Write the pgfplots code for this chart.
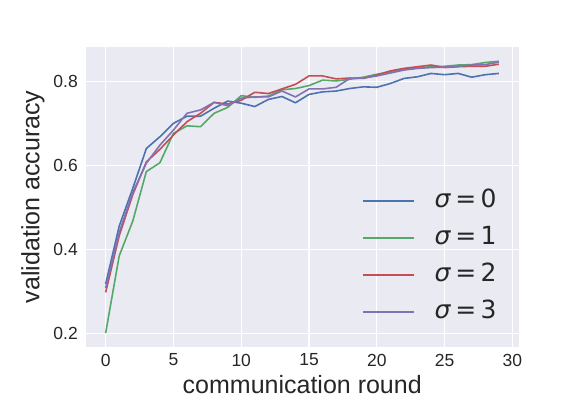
\documentclass[border=0pt]{standalone}
\usepackage{pgfplots}
\pgfplotsset{compat=1.18}
\usepackage{fontspec}
\setmainfont{Liberation Sans}
\newfontfamily\dejavu{DejaVu Sans}

\definecolor{sbblue}{HTML}{4C72B0}
\definecolor{sbgreen}{HTML}{55A868}
\definecolor{sbred}{HTML}{C44E52}
\definecolor{sbpurple}{HTML}{8172B2}
\definecolor{sbbg}{HTML}{EAEAF2}

\newcommand{\sig}[1]{{\color{black!85}\dejavu\fontsize{25bp}{30bp}\selectfont\textit{σ}\hspace{0.17em}=\hspace{0.17em}#1}}

\begin{document}
\begin{tikzpicture}
\begin{axis}[
name=ax,
scale only axis,
width=432.5bp, height=299.7bp,
xmin=-1.45, xmax=30.45,
ymin=0.1675, ymax=0.882,
xtick={0,5,...,30},
ytick={0.2,0.4,0.6,0.8},
yticklabel style={/pgf/number format/fixed, /pgf/number format/precision=1, /pgf/number format/fixed zerofill},
/pgf/number format/assume math mode=true,
axis background/.style={fill=sbbg},
axis line style={draw=none},
major tick length=0pt,
grid=major,
major grid style={white, line width=1.1bp},
tick label style={font=\fontsize{17.5bp}{21bp}\selectfont, text=black!85},
xticklabel style={inner sep=0pt, anchor=north, yshift=-7bp},
yticklabel style={inner sep=0pt, anchor=east, xshift=-8bp},
xlabel={communication round},
ylabel={validation accuracy},
label style={font=\fontsize{25bp}{30bp}\selectfont, text=black!85},
xlabel style={at={(rel axis cs:0.5,0)}, anchor=base, yshift=-47bp},
ylabel style={at={(rel axis cs:0,0.5)}, anchor=center, yshift=53bp},
legend style={draw=none, fill=none, at={(rel axis cs:0.638,0.3)}, anchor=west,
  inner sep=0pt, row sep=12bp, column sep=20bp,
  nodes={inner sep=0pt, text height=19bp, text depth=6bp}},
legend cell align=left,
legend image code/.code={\draw[#1, line width=1.6bp] (0bp,0bp) -- (51bp,0bp);},
every axis plot/.append style={line width=1.6bp, line join=round},
]
\addplot[sbblue] coordinates {
(0,0.317) (1,0.455) (2,0.545) (3,0.640) (4,0.668) (5,0.700) (6,0.717) (7,0.717)
(8,0.736) (9,0.753) (10,0.748) (11,0.740) (12,0.757) (13,0.764) (14,0.749)
(15,0.769) (16,0.775) (17,0.777) (18,0.783) (19,0.787) (20,0.786) (21,0.795)
(22,0.807) (23,0.811) (24,0.819) (25,0.816) (26,0.819) (27,0.810) (28,0.816) (29,0.819)
};
\addplot[sbgreen] coordinates {
(0,0.200) (1,0.384) (2,0.467) (3,0.585) (4,0.606) (5,0.676) (6,0.694) (7,0.692)
(8,0.724) (9,0.738) (10,0.766) (11,0.762) (12,0.765) (13,0.780) (14,0.783)
(15,0.790) (16,0.803) (17,0.801) (18,0.805) (19,0.810) (20,0.817) (21,0.823)
(22,0.829) (23,0.832) (24,0.835) (25,0.836) (26,0.839) (27,0.840) (28,0.845) (29,0.848)
};
\addplot[sbred] coordinates {
(0,0.297) (1,0.432) (2,0.530) (3,0.608) (4,0.638) (5,0.672) (6,0.704) (7,0.724)
(8,0.750) (9,0.746) (10,0.755) (11,0.774) (12,0.771) (13,0.782) (14,0.793)
(15,0.813) (16,0.813) (17,0.806) (18,0.808) (19,0.807) (20,0.815) (21,0.825)
(22,0.831) (23,0.835) (24,0.839) (25,0.833) (26,0.835) (27,0.836) (28,0.836) (29,0.841)
};
\addplot[sbpurple] coordinates {
(0,0.307) (1,0.440) (2,0.535) (3,0.605) (4,0.648) (5,0.684) (6,0.724) (7,0.732)
(8,0.750) (9,0.742) (10,0.760) (11,0.763) (12,0.763) (13,0.777) (14,0.763)
(15,0.782) (16,0.782) (17,0.786) (18,0.807) (19,0.808) (20,0.813) (21,0.820)
(22,0.827) (23,0.831) (24,0.833) (25,0.834) (26,0.836) (27,0.839) (28,0.840) (29,0.846)
};
\legend{\sig{0},\sig{1},\sig{2},\sig{3}}
\end{axis}
\path ([xshift=-86bp,yshift=-49.3bp]ax.south west) rectangle ([xshift=57.5bp,yshift=47bp]ax.north east);
\end{tikzpicture}
\end{document}
